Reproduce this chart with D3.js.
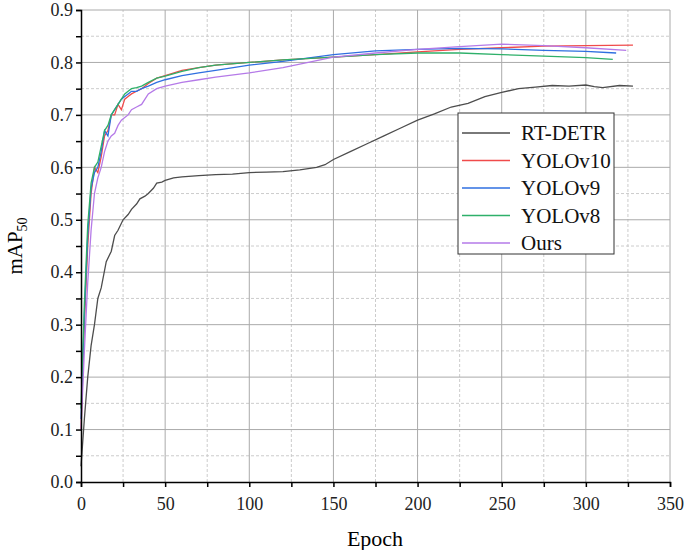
<!DOCTYPE html><html><head><meta charset="utf-8"><script src="https://cdn.jsdelivr.net/npm/d3@7"></script>
<style>body{margin:0;background:#fff}text{font-family:"Liberation Serif","DejaVu Serif",serif}</style></head><body><svg id="c" width="685" height="550"></svg>
<script>
const series=["RT-DETR","YOLOv10","YOLOv9","YOLOv8","Ours"];
const colors=["#4d4d4d","#f04b4b","#2f6fe0","#2eb06a","#b57ae8"];
const epochs_rt=[0,2,4,6,8,10,12,15,18,20,22,25,28,30,33,35,38,40,43,45,48,50,55,60,70,80,90,100,110,120,130,140,145,150,160,170,180,190,200,210,220,230,240,250,260,270,280,290,300,305,310,320,328];
const rtdetr=[0.03,0.12,0.2,0.26,0.3,0.35,0.37,0.42,0.44,0.47,0.48,0.5,0.51,0.52,0.53,0.54,0.545,0.55,0.56,0.57,0.572,0.575,0.58,0.582,0.584,0.586,0.587,0.59,0.591,0.592,0.595,0.6,0.605,0.615,0.63,0.645,0.66,0.675,0.69,0.702,0.715,0.722,0.735,0.743,0.75,0.753,0.756,0.755,0.757,0.754,0.752,0.756,0.755];
const epochs_v10=[0,2,4,6,8,10,12,14,16,18,20,22,24,26,28,30,33,36,40,45,50,60,70,80,100,120,150,175,200,225,250,275,300,328];
const yolov10=[0.1,0.3,0.45,0.55,0.6,0.59,0.62,0.66,0.67,0.7,0.7,0.72,0.71,0.73,0.735,0.74,0.745,0.75,0.76,0.77,0.775,0.785,0.79,0.795,0.8,0.805,0.81,0.815,0.82,0.825,0.828,0.831,0.832,0.833];
const epochs_v9=[0,2,4,6,8,10,12,14,16,18,20,22,24,26,28,30,33,36,40,45,50,60,70,80,100,120,150,175,200,225,250,275,300,318];
const yolov9=[0.12,0.32,0.47,0.56,0.59,0.6,0.63,0.67,0.66,0.7,0.71,0.72,0.73,0.735,0.74,0.745,0.745,0.75,0.755,0.762,0.767,0.775,0.78,0.785,0.795,0.802,0.815,0.822,0.825,0.827,0.826,0.823,0.821,0.818];
const epochs_v8=[0,2,4,6,8,10,12,14,16,18,20,22,24,26,28,30,33,36,40,45,50,60,70,80,100,120,150,175,200,225,250,275,300,316];
const yolov8=[0.14,0.34,0.49,0.57,0.6,0.61,0.64,0.67,0.68,0.7,0.71,0.72,0.73,0.74,0.745,0.75,0.752,0.755,0.762,0.77,0.774,0.783,0.79,0.795,0.8,0.805,0.81,0.815,0.818,0.818,0.815,0.812,0.809,0.806];
const epochs_ours=[0,2,4,6,8,10,12,14,16,18,20,22,24,26,28,30,33,36,40,45,50,60,70,80,100,120,150,175,200,225,250,275,300,324];
const ours=[0.1,0.25,0.38,0.48,0.55,0.58,0.6,0.63,0.65,0.66,0.665,0.68,0.69,0.695,0.7,0.71,0.715,0.72,0.74,0.75,0.755,0.762,0.767,0.772,0.78,0.79,0.81,0.818,0.825,0.83,0.835,0.832,0.828,0.823];
const xTicks=[0,50,100,150,200,250,300,350];
const yTicks=[0,0.1,0.2,0.3,0.4,0.5,0.6,0.7,0.8,0.9];
const allX=[epochs_rt,epochs_v10,epochs_v9,epochs_v8,epochs_ours], allY=[rtdetr,yolov10,yolov9,yolov8,ours];

const svg=d3.select("#c");
const x=d3.scaleLinear().domain([0,350]).range([81,670]);
const y=d3.scaleLinear().domain([0,0.9]).range([482,10]);
const g=svg.append("g");
d3.range(25,350,50).forEach(v=>g.append("line").attr("x1",x(v)).attr("x2",x(v)).attr("y1",y(0)).attr("y2",y(0.9)).attr("stroke","#ccc").attr("stroke-dasharray","3,2"));
d3.range(0.05,0.9,0.1).forEach(v=>g.append("line").attr("y1",y(v)).attr("y2",y(v)).attr("x1",x(0)).attr("x2",x(350)).attr("stroke","#ccc").attr("stroke-dasharray","3,2"));
xTicks.slice(1).forEach(v=>g.append("line").attr("x1",x(v)).attr("x2",x(v)).attr("y1",y(0)).attr("y2",y(0.9)).attr("stroke","#aaa"));
yTicks.slice(1).forEach(v=>g.append("line").attr("y1",y(v)).attr("y2",y(v)).attr("x1",x(0)).attr("x2",x(350)).attr("stroke","#aaa"));
const line=d3.line().x(d=>x(d[0])).y(d=>y(d[1]));
allX.forEach((xs,i)=>svg.append("path").attr("d",line(xs.map((e,j)=>[e,allY[i][j]]))).attr("fill","none").attr("stroke",colors[i]).attr("stroke-width",1.3));
const xa=svg.append("g").attr("transform",`translate(0,${y(0)})`).call(d3.axisBottom(x).tickValues(d3.range(0,351,25)).tickSize(5).tickFormat(d=>d%50?"":d));
const ya=svg.append("g").attr("transform",`translate(${x(0)},0)`).call(d3.axisLeft(y).tickValues(d3.range(0,0.91,0.05)).tickSize(5).tickFormat(d=>Math.round(d*100)%10?"":d.toFixed(1)));
[xa,ya].forEach(a=>{a.selectAll("path,line").attr("stroke","#000").attr("stroke-width",1.5);a.selectAll("text").attr("font-size",18).attr("fill","#222").style("font-family","Liberation Serif");});
xa.selectAll("text").attr("dy","1.1em");
svg.append("text").attr("x",375).attr("y",546).attr("text-anchor","middle").attr("font-size",22).text("Epoch");
const yl=svg.append("text").attr("transform","translate(22,246) rotate(-90)").attr("text-anchor","middle").attr("font-size",21);
yl.append("tspan").text("mAP");yl.append("tspan").attr("font-size",14).attr("dy",5).text("50");
const lg=svg.append("g");
lg.append("rect").attr("x",458).attr("y",113).attr("width",156).attr("height",141).attr("fill","#fff").attr("stroke","#333");
series.forEach((s,i)=>{const yy=133+i*27.5;
lg.append("line").attr("x1",462).attr("x2",510).attr("y1",yy).attr("y2",yy).attr("stroke",colors[i]).attr("stroke-width",1.5);
lg.append("text").attr("x",521).attr("y",yy+7).attr("font-size",21).attr("fill","#111").text(s);});
</script></body></html>
